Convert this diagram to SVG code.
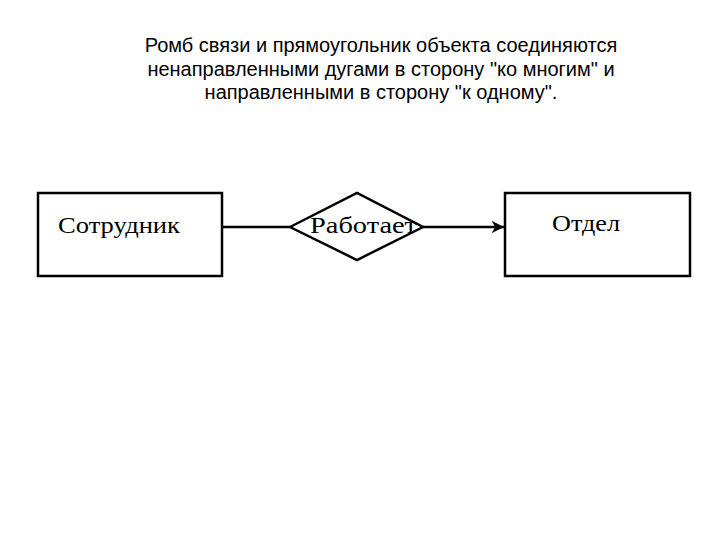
<svg xmlns="http://www.w3.org/2000/svg" width="720" height="540" viewBox="0 0 720 540">
<style>
.title{font-family:"Liberation Sans",Arial,sans-serif;font-size:20px;fill:#000;text-anchor:middle}
.lbl{font-family:"Liberation Serif","Times New Roman",serif;font-size:24px;fill:#000}
.shape{fill:#fff;stroke:#000;stroke-width:2.5}
.conn{stroke:#000;stroke-width:2.5;fill:none}
</style>
<defs>
<marker id="arr" viewBox="0 0 10 10" refX="10" refY="5" markerWidth="5" markerHeight="5" orient="auto" markerUnits="strokeWidth">
<path d="M0,0 L10,5 L0,10 L3,5 Z" fill="#000"/>
</marker>
</defs>
<rect width="720" height="540" fill="#fff"/>
<g id="title">
<text class="title" x="381" y="52">Ромб связи и прямоугольник объекта соединяются</text>
<text class="title" x="381" y="76">ненаправленными дугами в сторону "ко многим" и</text>
<text class="title" x="381" y="99">направленными в сторону "к одному".</text>
</g>
<g id="connectors">
<line class="conn" x1="222" y1="227" x2="290" y2="227"/>
<line class="conn" x1="423" y1="227" x2="504" y2="227" marker-end="url(#arr)"/>
</g>
<g id="employee">
<rect class="shape" x="38" y="193" width="184" height="83"/>
<text class="lbl" x="58" y="233" textLength="122" lengthAdjust="spacingAndGlyphs">Сотрудник</text>
</g>
<g id="works">
<polygon class="shape" points="290,227 357,193 423,227 357,260"/>
<text class="lbl" x="310" y="233" textLength="107" lengthAdjust="spacingAndGlyphs">Работает</text>
</g>
<g id="department">
<rect class="shape" x="505" y="193" width="185" height="83"/>
<text class="lbl" x="552" y="231" textLength="68" lengthAdjust="spacingAndGlyphs">Отдел</text>
</g>
</svg>
